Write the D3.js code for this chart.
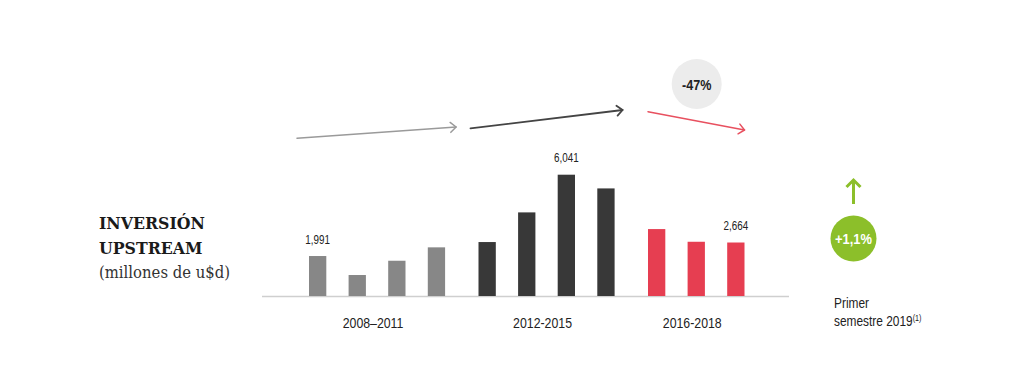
<!DOCTYPE html>
<html>
<head>
<meta charset="utf-8">
<script src="https://cdn.jsdelivr.net/npm/d3@7"></script>
<style>
html,body{margin:0;padding:0;background:#fff;}
svg{display:block;}
.narrow{font-family:'Liberation Sans',Arial,sans-serif;}
.slab{font-family:'DejaVu Serif Condensed','DejaVu Serif',serif;}
</style>
</head>
<body>
<svg id="chart" width="1024" height="384"></svg>
<script>
// ---- data ----
const groups = ["2008–2011", "2012-2015", "2016-2018"];
const values2008_2011 = [1991, 1045, 1756, 2423];
const values2012_2015 = [2687, 4164, 6041, 5358];
const values2016_2018 = [3333, 2701, 2664];
const groupColors = ["#878787", "#383838", "#e63e51"];
const labelledBars = [[0, 0], [1, 2], [2, 2]]; // [group, slot]
const trendLabel = "-47%";
const semesterChange = "+1,1%";
const titleLines = ["INVERSIÓN", "UPSTREAM"];
const subtitle = "(millones de u$d)";

const seriesByGroup = [values2008_2011, values2012_2015, values2016_2018];
const bars = [];
seriesByGroup.forEach((vals, gi) => vals.forEach((v, si) => bars.push({g: groups[gi], gi, si, v})));

const svg = d3.select("#chart");
const baseline = 296;

const x0 = d3.scaleBand().domain(groups).range([309, 309 + 3 * 169.5]).paddingInner(0).paddingOuter(0);
const x1 = d3.scaleBand().domain([0, 1, 2, 3]).range([0, 136.1]).paddingInner(0.563).paddingOuter(0);
const y = d3.scaleLinear().domain([0, 6041]).range([baseline, 174.7]);
const fmt = d3.format(",");

// condensed text helper (horizontal squeeze of Liberation Sans)
function narrow(parent, x, yy, txt, size, opts = {}) {
  const g = parent.append("g").attr("transform", `translate(${x},${yy}) scale(${opts.sx || 0.84},1)`);
  const t = g.append("text").attr("class", "narrow")
    .attr("x", 0).attr("y", 0)
    .attr("text-anchor", opts.anchor || "start")
    .attr("font-size", size)
    .attr("font-weight", opts.weight || "normal")
    .attr("fill", opts.fill || "#222")
    .text(txt);
  return t;
}

// axis line
svg.append("line")
  .attr("x1", 262).attr("x2", 789)
  .attr("y1", baseline + 0.5).attr("y2", baseline + 0.5)
  .attr("stroke", "#cfcfcf").attr("stroke-width", 1.5);

// bars
svg.append("g").selectAll("rect").data(bars).join("rect")
  .attr("x", d => x0(d.g) + x1(d.si))
  .attr("width", x1.bandwidth())
  .attr("y", d => y(d.v))
  .attr("height", d => baseline - y(d.v))
  .attr("fill", d => groupColors[d.gi]);

// value labels
const vl = svg.append("g");
labelledBars.map(([gi, si]) => bars.find(b => b.gi === gi && b.si === si)).forEach(d => {
  narrow(vl, x0(d.g) + x1(d.si) + x1.bandwidth() / 2, y(d.v) - 12.5, fmt(d.v), 12, {anchor: "middle", sx: 0.82});
});

// group labels
const gl = svg.append("g");
groups.forEach((g, i) => {
  const n = seriesByGroup[i].length;
  narrow(gl, x0(g) + (x1(n - 1) + x1.bandwidth()) / 2 - 4, 328, g, 14, {anchor: "middle", sx: 0.88});
});

// trend arrows (annotations relative to group extents)
const trendArrows = [
  {gi: 0, dx0: -12, dx1: 11, y0: 138.3, y1: 127, color: "#9a9a9a", w: 1.5},
  {gi: 1, dx0: -8, dx1: 8, y0: 128.3, y1: 110, color: "#444444", w: 1.8},
  {gi: 2, dx0: 0, dx1: 0, y0: 111.7, y1: 130, color: "#e8505f", w: 1.5}
];
const ag = svg.append("g").attr("fill", "none").attr("stroke-linecap", "round").attr("stroke-linejoin", "round");
trendArrows.forEach(a => {
  const n = seriesByGroup[a.gi].length;
  const xs = x0(groups[a.gi]) + a.dx0;
  const xe = x0(groups[a.gi]) + x1(n - 1) + x1.bandwidth() + a.dx1;
  const ang = Math.atan2(a.y1 - a.y0, xe - xs);
  const L = 7.5, spread = 0.72;
  ag.append("line").attr("x1", xs).attr("y1", a.y0).attr("x2", xe).attr("y2", a.y1)
    .attr("stroke", a.color).attr("stroke-width", a.w);
  ag.append("path")
    .attr("d", `M${xe - L * Math.cos(ang - spread)},${a.y1 - L * Math.sin(ang - spread)} L${xe},${a.y1} L${xe - L * Math.cos(ang + spread)},${a.y1 - L * Math.sin(ang + spread)}`)
    .attr("stroke", a.color).attr("stroke-width", a.w);
});

// -47% bubble
svg.append("circle").attr("cx", 696.7).attr("cy", 84).attr("r", 25).attr("fill", "#ececec");
narrow(svg, 696.7, 89.5, trendLabel, 15, {anchor: "middle", weight: "bold", sx: 0.84});

// green arrow and bubble
const gx = 853.5;
svg.append("path")
  .attr("d", `M${gx},204 L${gx},180 M${gx - 7},187 L${gx},180 L${gx + 7},187`)
  .attr("fill", "none").attr("stroke", "#8cbf2a").attr("stroke-width", 3).attr("stroke-linecap", "butt").attr("stroke-linejoin", "miter");
svg.append("circle").attr("cx", gx).attr("cy", 238.5).attr("r", 23).attr("fill", "#8cbf2a");
narrow(svg, gx, 244, semesterChange, 15, {anchor: "middle", weight: "bold", fill: "#fff", sx: 0.86});

// Primer semestre label
narrow(svg, 834, 308, "Primer", 14, {sx: 0.85});
const ps = narrow(svg, 834, 326, "semestre 2019", 14, {sx: 0.85});
ps.append("tspan").attr("dy", -5).attr("font-size", 8.5).text("(1)");

// title
const t = svg.append("g");
t.selectAll("text.tl").data(titleLines).join("text")
  .attr("class", "tl slab")
  .attr("x", 99).attr("y", (d, i) => 228.5 + i * 25)
  .attr("font-size", 17.5).attr("font-weight", "bold").attr("fill", "#1a1a1a")
  .text(d => d);
t.append("text").attr("class", "slab")
  .attr("x", 99).attr("y", 278)
  .attr("font-size", 16.5).attr("fill", "#333")
  .text(subtitle);
</script>
</body>
</html>
